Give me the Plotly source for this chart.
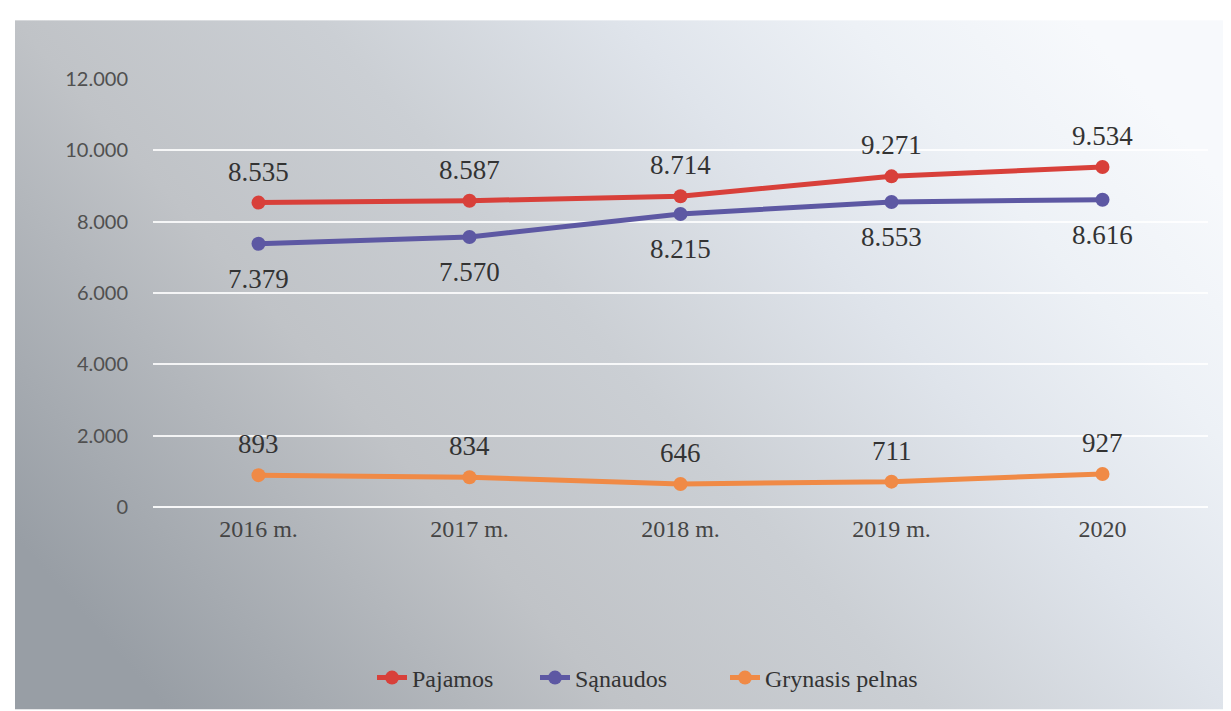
import base64
import plotly.graph_objects as go

categories = ["2016 m.", "2017 m.", "2018 m.", "2019 m.", "2020"]
pajamos = [8535, 8587, 8714, 9271, 9534]
sanaudos = [7379, 7570, 8215, 8553, 8616]
pelnas = [893, 834, 646, 711, 927]
y_ticks = [0, 2000, 4000, 6000, 8000, 10000, 12000]
y_tick_labels = ["0", "2.000", "4.000", "6.000", "8.000", "10.000", "12.000"]


def fmt(v):
    return f"{v:,}".replace(",", ".")


W, H = 1223, 703
L, R, T, B = 145, 23, 71, 203
pw = W - L - R
ph = H - T - B

series = [
    ("Pajamos", pajamos, "#d8403a", 31, "legend", 364),
    ("Sąnaudos", sanaudos, "#5d58a3", -35, "legend2", 527),
    ("Grynasis pelnas", pelnas, "#f08a46", 31, "legend3", 717),
]

fig = go.Figure()
annotations = []
legends = {}
for name, vals, color, shift, leg, lx in series:
    fig.add_trace(go.Scatter(
        x=categories, y=vals, name=name, mode="lines+markers",
        line=dict(color=color, width=5),
        marker=dict(color=color, size=14),
        legend=leg,
    ))
    legends[leg] = dict(
        orientation="h", x=(lx - L) / pw, xanchor="left",
        y=(H - B - 670) / ph, yanchor="middle",
        font=dict(family="Liberation Serif", size=24, color="#333333"),
        bgcolor="rgba(0,0,0,0)",
    )
    for i, v in enumerate(vals):
        annotations.append(dict(
            x=i, y=v, xref="x", yref="y", text=fmt(v), showarrow=False,
            yshift=shift, xanchor="center", yanchor="middle",
            font=dict(family="Liberation Serif", size=27, color="#333333"),
        ))

svg = """<svg xmlns='http://www.w3.org/2000/svg' width='1216' height='691' preserveAspectRatio='none'>
<defs><linearGradient id='g' x1='0' y1='0.75' x2='1' y2='0.25'>
<stop offset='0' stop-color='#989ea5'/>
<stop offset='0.3' stop-color='#c0c3c7'/>
<stop offset='0.5' stop-color='#cbcfd4'/>
<stop offset='0.7' stop-color='#dfe4eb'/>
<stop offset='0.85' stop-color='#edf1f6'/>
<stop offset='1' stop-color='#f7f9fc'/>
</linearGradient></defs>
<rect width='1216' height='691' fill='url(#g)'/></svg>"""
src = "data:image/svg+xml;base64," + base64.b64encode(svg.encode()).decode()

card_x0, card_y0 = 7, 12
fig.add_layout_image(dict(
    source=src, xref="paper", yref="paper",
    x=(card_x0 - L) / pw, y=(H - B - card_y0) / ph,
    sizex=(W - card_x0) / pw, sizey=(H - card_y0) / ph,
    sizing="stretch", xanchor="left", yanchor="top", layer="below",
))

fig.update_layout(
    width=W, height=H,
    margin=dict(l=L, r=R, t=T, b=B),
    paper_bgcolor="white", plot_bgcolor="rgba(0,0,0,0)",
    showlegend=True,
    annotations=annotations,
    **legends,
)
fig.update_xaxes(
    type="category", showgrid=False, zeroline=False, showline=False,
    tickfont=dict(family="Liberation Serif", size=24, color="#444444"),
    ticklabelstandoff=5, range=[-0.5, 4.5],
)
fig.update_yaxes(
    range=[0, 12000], tickvals=y_ticks, ticktext=y_tick_labels,
    showgrid=True, gridcolor="rgba(255,255,255,0.85)", gridwidth=1.5,
    zeroline=True, zerolinecolor="rgba(255,255,255,0.9)", zerolinewidth=2,
    showline=False,
    tickfont=dict(family="Lato", size=20, color="#505050"),
    ticklabelstandoff=24,
)

fig.write_html("out.html")
